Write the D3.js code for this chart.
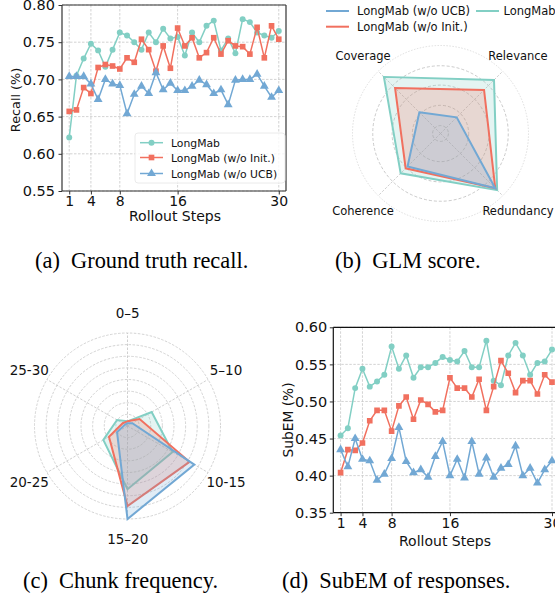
<!DOCTYPE html>
<html><head><meta charset="utf-8">
<script src="https://cdn.jsdelivr.net/npm/d3@7"></script>
<style>body{margin:0;background:#fff}svg{display:block}text{font-family:"DejaVu Sans",sans-serif;fill:#111}</style>
</head><body><svg id="c" width="555" height="601"></svg>
<script>
// ---------- data ----------
const steps = [1,2,3,4,5,6,7,8,9,10,11,12,13,14,15,16,17,18,19,20,21,22,23,24,25,26,27,28,29,30];
const xTicks = [1,4,8,16,30];
const seriesNames = ["LongMab", "LongMab (w/o Init.)", "LongMab (w/o UCB)"];

const recallLongMab = [0.622,0.705,0.728,0.748,0.739,0.717,0.740,0.763,0.759,0.750,0.740,0.763,0.750,0.768,0.755,0.757,0.732,0.763,0.750,0.772,0.779,0.739,0.755,0.735,0.781,0.777,0.763,0.759,0.756,0.765];
const recallNoInit  = [0.657,0.659,0.689,0.681,0.716,0.720,0.718,0.714,0.729,0.723,0.754,0.740,0.711,0.745,0.715,0.769,0.745,0.756,0.729,0.736,0.756,0.734,0.752,0.745,0.744,0.734,0.770,0.729,0.772,0.754];
const recallNoUCB   = [0.704,0.704,0.704,0.694,0.673,0.700,0.694,0.692,0.654,0.680,0.691,0.681,0.709,0.686,0.695,0.685,0.685,0.691,0.699,0.693,0.681,0.686,0.666,0.699,0.700,0.700,0.707,0.691,0.676,0.685];
const recallTicks = [0.55,0.60,0.65,0.70,0.75,0.80];

const subemLongMab = [0.454,0.464,0.518,0.544,0.520,0.527,0.536,0.574,0.544,0.562,0.532,0.546,0.546,0.552,0.560,0.556,0.554,0.568,0.546,0.546,0.582,0.528,0.522,0.562,0.579,0.562,0.536,0.552,0.554,0.570];
const subemNoInit  = [0.404,0.435,0.434,0.444,0.474,0.488,0.488,0.460,0.494,0.506,0.476,0.502,0.496,0.486,0.488,0.532,0.518,0.518,0.506,0.530,0.488,0.520,0.555,0.538,0.512,0.528,0.528,0.510,0.536,0.526];
const subemNoUCB   = [0.435,0.412,0.450,0.422,0.420,0.394,0.402,0.423,0.465,0.419,0.404,0.408,0.398,0.426,0.446,0.400,0.422,0.397,0.446,0.402,0.424,0.398,0.410,0.415,0.440,0.400,0.410,0.390,0.408,0.420];
const subemTicks = [0.35,0.40,0.45,0.50,0.55,0.60];

// GLM score radar (relative radius, outer ring = 1)
const glmAxes = ["Coverage", "Relevance", "Redundancy", "Coherence"];
const glmLongMab = [0.91, 0.86, 0.91, 0.64];
const glmNoInit  = [0.73, 0.70, 0.88, 0.56];
const glmNoUCB   = [0.34, 0.26, 0.88, 0.53];
const glmRings   = [0.09, 0.32, 0.55, 0.77, 1.0];

// Chunk frequency radar (relative radius, outer ring = 1)
const chunkAxes = ["0–5", "5–10", "10-15", "15–20", "20-25", "25-30"];
const chunkLongMab = [0.05, 0.30, 0.56, 0.68, 0.30, 0.13];
const chunkNoInit  = [0.05, 0.15, 0.77, 0.86, 0.23, 0.06];
const chunkNoUCB   = [0.03, 0.06, 0.83, 1.00, 0.13, 0.03];
const chunkRings   = [0.125,0.25,0.375,0.5,0.625,0.75,0.875,1.0];

const captions = ["(a)\u00a0\u00a0Ground truth recall.", "(b)\u00a0\u00a0GLM score.", "(c)\u00a0\u00a0Chunk frequency.", "(d)\u00a0\u00a0SubEM of responses."];

// ---------- styles ----------
const COL = {teal:"#82cfc4", red:"#f1705f", blue:"#72a8d4"};
const svg = d3.select("#c");

// ---------- line chart ----------
function lineChart(o){
  const g = svg.append("g");
  const x = d3.scaleLinear().domain([0,31]).range([o.x0, o.x0 + 31*o.step]);
  const y = d3.scaleLinear().domain([o.ticks[0], o.ticks[o.ticks.length-1]]).range([o.y1, o.y0]);
  const clipId = "clip"+o.id;
  svg.append("clipPath").attr("id", clipId).append("rect").attr("x", o.x0).attr("y", o.y0-6).attr("width", 555-o.x0).attr("height", o.y1-o.y0+12);
  g.selectAll(".gx").data(xTicks).join("line").attr("x1",d=>x(d)).attr("x2",d=>x(d)).attr("y1",o.y0).attr("y2",o.y1)
    .attr("stroke","#c8c8c8").attr("stroke-width",0.8).attr("stroke-dasharray","2.5,1.5");
  g.selectAll(".gy").data(o.ticks).join("line").attr("x1",o.x0).attr("x2",x(31)).attr("y1",d=>y(d)).attr("y2",d=>y(d))
    .attr("stroke","#c8c8c8").attr("stroke-width",0.8).attr("stroke-dasharray","2.5,1.5");
  const sers = [
    {v:o.a, c:COL.teal, m:"circle"},
    {v:o.b, c:COL.red, m:"square"},
    {v:o.c, c:COL.blue, m:"triangle"}
  ];
  const sg = g.append("g").attr("clip-path", `url(#${clipId})`);
  sers.forEach(s=>{
    const line = d3.line().x((d,i)=>x(steps[i])).y(d=>y(d));
    sg.append("path").attr("d", line(s.v)).attr("fill","none").attr("stroke", s.c).attr("stroke-width",1.5);
    const sym = s.m==="circle"? d3.symbolCircle : s.m==="square"? d3.symbolSquare : d3.symbolTriangle;
    const size = s.m==="circle"? 28 : s.m==="square"? 32 : 34;
    sg.selectAll(null).data(s.v).join("path")
      .attr("transform",(d,i)=>`translate(${x(steps[i])},${y(d)})`)
      .attr("d", d3.symbol().type(sym).size(size)).attr("fill", s.c);
  });
  const sp = (x1,y1,x2,y2)=>g.append("line").attr("x1",x1).attr("x2",x2).attr("y1",y1).attr("y2",y2).attr("stroke",o.spine).attr("stroke-width",1.2);
  sp(o.x0,o.y0,o.x0,o.y1); sp(o.x0,o.y1,x(31),o.y1); sp(o.x0,o.y0,x(31),o.y0); sp(x(31),o.y0,x(31),o.y1);
  const ax = g.append("g").attr("transform",`translate(0,${o.y1})`)
    .call(d3.axisBottom(x).tickValues(xTicks).tickFormat(d3.format("d")).tickSize(3.5).tickPadding(2));
  ax.select(".domain").remove();
  ax.selectAll("text").attr("font-size", o.xfs).attr("fill","#111").attr("font-family","DejaVu Sans");
  ax.selectAll("line").attr("stroke","#333");
  const ay = g.append("g").attr("transform",`translate(${o.x0},0)`)
    .call(d3.axisLeft(y).tickValues(o.ticks).tickFormat(d3.format(".2f")).tickSize(3.5).tickPadding(o.ypad));
  ay.select(".domain").remove();
  ay.selectAll("text").attr("font-size", o.yfs).attr("fill","#111").attr("font-family","DejaVu Sans");
  ay.selectAll("line").attr("stroke","#333");
  g.append("text").attr("x", o.xlx).attr("y", o.xly).attr("text-anchor","middle").attr("font-size",14).text("Rollout Steps");
  g.append("text").attr("transform",`translate(${o.ylx},${o.yly}) rotate(-90)`).attr("text-anchor","middle").attr("font-size",o.ylfs).text(o.ylabel);
  return {x,y,g};
}

lineChart({id:"a", x0:62, step:224/31, y0:5, y1:191, ticks:recallTicks, a:recallLongMab, b:recallNoInit, c:recallNoUCB,
  spine:"#333", xfs:14, yfs:14.5, ypad:3.5, xlx:175, xly:221, ylx:20, yly:100, ylfs:12.8, ylabel:"Recall (%)"});
lineChart({id:"d", x0:333.3, step:7.29, y0:327.3, y1:512.7, ticks:subemTicks, a:subemLongMab, b:subemNoInit, c:subemNoUCB,
  spine:"#111", xfs:14, yfs:14.5, ypad:2.5, xlx:445, xly:546, ylx:293, yly:420, ylfs:13.8, ylabel:"SubEM (%)"});

// legend for (a)
(function(){
  const g = svg.append("g");
  g.append("rect").attr("x",135).attr("y",133).attr("width",150).attr("height",50).attr("rx",3)
    .attr("fill","#fff").attr("fill-opacity",0.8).attr("stroke","#e4e4e4").attr("stroke-width",0.8);
  const items = [{n:seriesNames[0],c:COL.teal,s:d3.symbolCircle,z:28},{n:seriesNames[1],c:COL.red,s:d3.symbolSquare,z:32},{n:seriesNames[2],c:COL.blue,s:d3.symbolTriangle,z:34}];
  const ly = [142.7,157.5,173.5];
  items.forEach((it,i)=>{
    g.append("line").attr("x1",140).attr("x2",163).attr("y1",ly[i]).attr("y2",ly[i]).attr("stroke",it.c).attr("stroke-width",1.5);
    g.append("path").attr("transform",`translate(151.5,${ly[i]})`).attr("d",d3.symbol().type(it.s).size(it.z)).attr("fill",it.c);
    g.append("text").attr("x",171).attr("y",ly[i]+4).attr("font-size",10.8).text(it.n);
  });
})();

// ---------- radar ----------
function radar(o){
  const g = svg.append("g").attr("transform",`translate(${o.cx},${o.cy})`);
  const r = d3.scaleLinear().domain([0,1]).range([0,o.R]);
  o.rings.forEach((v,i)=>{
    g.append("circle").attr("r", r(v)).attr("fill","none").attr("stroke", o.ringColor(i)).attr("stroke-width",0.8).attr("stroke-dasharray", o.ringDash(i));
  });
  o.angles.forEach(a=>{
    const rad = a*Math.PI/180;
    g.append("line").attr("x1",0).attr("y1",0).attr("x2",r(1)*Math.cos(rad)).attr("y2",-r(1)*Math.sin(rad))
      .attr("stroke","#c4c4c4").attr("stroke-width",0.8).attr("stroke-dasharray","2.5,1.5");
  });
  o.series.forEach(s=>{
    const pts = s.v.map((v,i)=>{const rad=o.angles[i]*Math.PI/180; return [r(v)*Math.cos(rad), -r(v)*Math.sin(rad)];});
    g.append("path").attr("d", d3.line().curve(d3.curveLinearClosed)(pts)).attr("fill", s.c).attr("fill-opacity",0.22)
      .attr("stroke", s.c).attr("stroke-width",2).attr("stroke-linejoin","miter");
  });
  o.axes.forEach((t,i)=>{
    g.append("text").attr("x",o.lab[i][0]-o.cx).attr("y",o.lab[i][1]-o.cy).attr("dy","0.35em").attr("text-anchor","middle")
      .attr("font-size",o.fs).text(t);
  });
}

radar({cx:440.5, cy:133.5, R:88, axes:glmAxes, angles:[135,45,-45,-135], rings:glmRings,
  ringColor:i=> i<4? "#bdbdbd":"#d6d6d6", ringDash:i=> i<4? "3,2":"1.5,1.5",
  series:[{v:glmLongMab,c:COL.teal},{v:glmNoInit,c:COL.red},{v:glmNoUCB,c:COL.blue}],
  lab:[[363,56],[518,56],[518,211],[363,211]], fs:11.5});

radar({cx:127.5, cy:426, R:93, axes:chunkAxes, angles:[90,30,-30,-90,-150,150], rings:chunkRings,
  ringColor:i=>"#c8c8c8", ringDash:i=>"2.5,1.5",
  series:[{v:chunkLongMab,c:COL.teal},{v:chunkNoInit,c:COL.red},{v:chunkNoUCB,c:COL.blue}],
  lab:[[127.7,313.3],[226,370],[226,482.7],[127.7,539.3],[29.3,482.7],[29.3,370]], fs:13.5});

// legend for (b)
(function(){
  const g = svg.append("g");
  const items = [{n:seriesNames[2],c:COL.blue,x:326,y:11},{n:seriesNames[0],c:COL.teal,x:476,y:11},{n:seriesNames[1],c:COL.red,x:326,y:26.7}];
  items.forEach(it=>{
    g.append("line").attr("x1",it.x).attr("x2",it.x+23).attr("y1",it.y).attr("y2",it.y).attr("stroke",it.c).attr("stroke-width",2);
    g.append("text").attr("x",it.x+(it.x>400?27.5:31)).attr("y",it.y+4.2).attr("font-size",11.5).text(it.n);
  });
})();

// captions
const capPos = [[35,268],[335,268],[23,588],[282,588]];
captions.forEach((c,i)=>{
  svg.append("text").attr("x",capPos[i][0]).attr("y",capPos[i][1])
    .attr("font-size",22.4).style("font-family","'Liberation Serif','Times New Roman',serif").style("fill","#000").text(c);
});
</script></body></html>
